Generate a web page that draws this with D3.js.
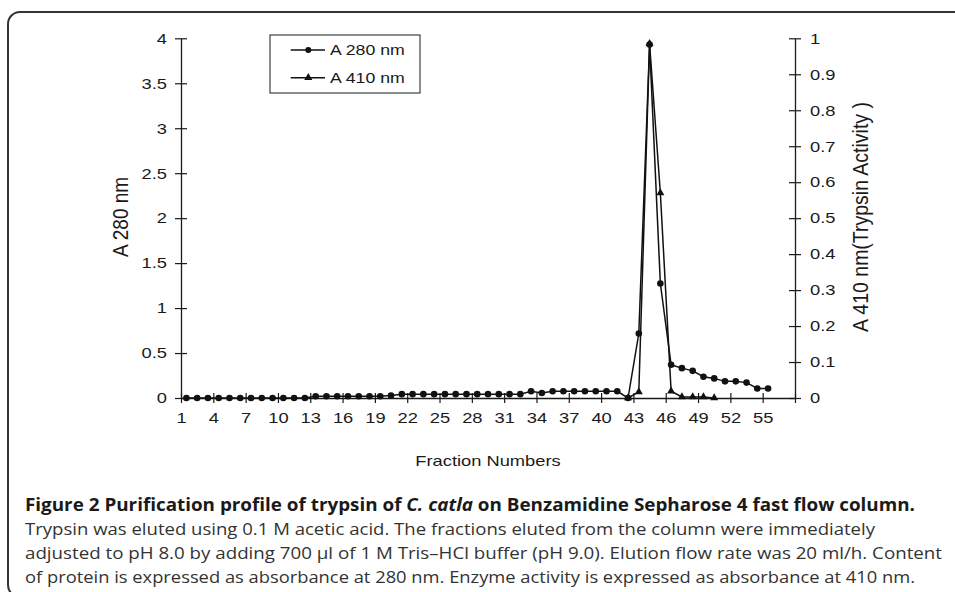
<!DOCTYPE html>
<html>
<head>
<meta charset="utf-8">
<script src="https://cdn.jsdelivr.net/npm/d3@7"></script>
<style>
  html, body { margin: 0; padding: 0; background: #fff; }
  svg { display: block; }
</style>
</head>
<body>
<svg id="chart" width="955" height="592"></svg>
<script>
// ---------------- DATA ----------------
const fractions = [1,2,3,4,5,6,7,8,9,10,11,12,13,14,15,16,17,18,19,20,
  21,22,23,24,25,26,27,28,29,30,31,32,33,34,35,36,37,38,39,40,
  41,42,43,44,45,46,47,48,49,50,51,52,53,54,55];
const a280 = [0,0,0,0,0,0,0,0,0,0,0,0,
  0.02,0.02,0.02,0.02,0.02,0.02,0.02,
  0.027,
  0.043,0.043,0.043,0.043,0.043,0.043,0.043,0.043,0.043,0.043,0.043,0.043,
  0.075,0.055,
  0.075,0.075,0.075,0.075,0.075,0.075,0.075,
  0,0.717,3.93,1.273,0.369,0.332,0.302,0.236,0.218,0.185,0.185,0.171,0.106,0.106];
const a410Fractions = [42,43,44,45,46,47,48,49,50];
const a410 = [0,0.017,0.985,0.570,0.019,0.003,0.003,0.003,0];
const xTickLabels = ["1","4","7","10","13","16","19","22","25","28","31","34","37","40","43","46","49","52","55"];
const leftTicks = [0,0.5,1,1.5,2,2.5,3,3.5,4];
const leftTickLabels = ["0","0.5","1","1.5","2","2.5","3","3.5","4"];
const rightTicks = [0,0.1,0.2,0.3,0.4,0.5,0.6,0.7,0.8,0.9,1];
const rightTickLabels = ["0","0.1","0.2","0.3","0.4","0.5","0.6","0.7","0.8","0.9","1"];
const categoryCount = 57;
const seriesNames = ["A 280 nm", "A 410 nm"];
const xTitle = "Fraction Numbers";
const yLeftTitle = "A 280 nm";
const yRightTitle = "A 410 nm(Trypsin Activity )";
const captionBold = "Figure 2 Purification profile of trypsin of ";
const captionItalic = "C. catla";
const captionBold2 = " on Benzamidine Sepharose 4 fast flow column.";
const captionLines = [
  "Trypsin was eluted using 0.1 M acetic acid. The fractions eluted from the column were immediately",
  "adjusted to pH 8.0 by adding 700 µl of 1 M Tris\u2013HCl buffer (pH 9.0). Elution flow rate was 20 ml/h. Content",
  "of protein is expressed as absorbance at 280 nm. Enzyme activity is expressed as absorbance at 410 nm."
];

// ---------------- LAYOUT ----------------
const svg = d3.select("#chart");
const L = 181, R = 795, T = 38.3, B = 398;
const SX = 1.22; // horizontal stretch of chart text
const chartFont = "'Liberation Sans', Arial, Helvetica, sans-serif";
const ink = "#1a1a1a";
const tickFs = 15;

function stretch(sel, f) {
  sel.each(function() {
    const len = this.getComputedTextLength();
    this.setAttribute("textLength", len * (f || SX));
    this.setAttribute("lengthAdjust", "spacingAndGlyphs");
  });
}

// frame
svg.append("rect")
  .attr("x", 8).attr("y", 12).attr("width", 1000).attr("height", 585)
  .attr("rx", 12).attr("ry", 12)
  .attr("fill", "none").attr("stroke", "#333").attr("stroke-width", 2);

// scales: boundary scale (label n sits at boundary n-1)
const xb = d3.scaleLinear().domain([1, categoryCount + 1]).range([L, R]);
const xc = d => xb(d + 0.5); // category centre
const yL = d3.scaleLinear().domain([0, 4]).range([B, T]);
const yR = d3.scaleLinear().domain([0, 1]).range([B, T]);

// ---- axes ----
const xTickVals = xTickLabels.map(Number).concat([categoryCount + 1]);
const xAxis = d3.axisBottom(xb).tickValues(xTickVals)
  .tickFormat(d => xTickLabels.includes(String(d)) ? String(d) : "")
  .tickSizeInner(5).tickSizeOuter(0).tickPadding(9);
const gx = svg.append("g").attr("transform", `translate(0,${B})`).call(xAxis);
gx.select(".domain").attr("stroke", ink).attr("stroke-width", 1.3);
gx.selectAll(".tick line").attr("y1", -5).attr("stroke", ink).attr("stroke-width", 1.2);
gx.selectAll(".tick text").attr("font-family", chartFont).attr("font-size", tickFs).attr("fill", ink);
stretch(gx.selectAll(".tick text"));

const yAxisL = d3.axisLeft(yL).tickValues(leftTicks)
  .tickFormat((d, i) => leftTickLabels[i]).tickSizeInner(6).tickSizeOuter(0).tickPadding(8);
const gyl = svg.append("g").attr("transform", `translate(${L},0)`).call(yAxisL);
gyl.select(".domain").attr("stroke", ink).attr("stroke-width", 1.3);
gyl.selectAll(".tick line").attr("x1", 6).attr("stroke", ink).attr("stroke-width", 1.2);
gyl.selectAll(".tick text").attr("font-family", chartFont).attr("font-size", tickFs).attr("fill", ink);
stretch(gyl.selectAll(".tick text"));

const yAxisR = d3.axisRight(yR).tickValues(rightTicks)
  .tickFormat((d, i) => rightTickLabels[i]).tickSizeInner(6).tickSizeOuter(0).tickPadding(9);
const gyr = svg.append("g").attr("transform", `translate(${R},0)`).call(yAxisR);
gyr.select(".domain").attr("stroke", ink).attr("stroke-width", 1.3);
gyr.selectAll(".tick line").attr("x1", -6).attr("stroke", ink).attr("stroke-width", 1.2);
gyr.selectAll(".tick text").attr("font-family", chartFont).attr("font-size", tickFs).attr("fill", ink);
stretch(gyr.selectAll(".tick text"));

// axis titles
const xt = svg.append("text").attr("x", 488).attr("y", 466)
  .attr("text-anchor", "middle").attr("font-family", chartFont).attr("font-size", 15)
  .attr("fill", ink).text(xTitle);
stretch(xt);

svg.append("text")
  .attr("transform", `translate(128,217) rotate(-90) scale(1,1.15)`)
  .attr("text-anchor", "middle").attr("font-family", chartFont).attr("font-size", 19)
  .attr("fill", ink).text(yLeftTitle);

svg.append("text")
  .attr("transform", `translate(868,217) rotate(-90) scale(1,1.15)`)
  .attr("text-anchor", "middle").attr("font-family", chartFont).attr("font-size", 19.5)
  .attr("fill", ink).text(yRightTitle);

// ---- series ----
const d280 = fractions.map((f, i) => ({ f, v: a280[i] }));
const d410 = a410Fractions.map((f, i) => ({ f, v: a410[i] }));

svg.append("path").datum(d280)
  .attr("fill", "none").attr("stroke", "#111").attr("stroke-width", 1.5)
  .attr("d", d3.line().x(d => xc(d.f)).y(d => yL(d.v)));
svg.append("path").datum(d410)
  .attr("fill", "none").attr("stroke", "#111").attr("stroke-width", 1.5)
  .attr("d", d3.line().x(d => xc(d.f)).y(d => yR(d.v)));

svg.append("g").selectAll("circle").data(d280).join("circle")
  .attr("cx", d => xc(d.f)).attr("cy", d => yL(d.v)).attr("r", 3.3).attr("fill", "#111");

const tri = d3.symbol(d3.symbolTriangle).size(28);
svg.append("g").selectAll("path").data(d410).join("path")
  .attr("transform", d => `translate(${xc(d.f)},${yR(d.v)})`)
  .attr("d", tri).attr("fill", "#111");

// ---- legend ----
const lg = svg.append("g");
lg.append("rect").attr("x", 270).attr("y", 35).attr("width", 150).attr("height", 58)
  .attr("fill", "#fff").attr("stroke", ink).attr("stroke-width", 1);
const legendY = [50, 77.7];
seriesNames.forEach((name, i) => {
  lg.append("line").attr("x1", 290.7).attr("x2", 325).attr("y1", legendY[i]).attr("y2", legendY[i])
    .attr("stroke", "#111").attr("stroke-width", 1.5);
  if (i === 0) {
    lg.append("circle").attr("cx", 308.3).attr("cy", legendY[i]).attr("r", 3).attr("fill", "#111");
  } else {
    lg.append("path").attr("transform", `translate(308.3,${legendY[i]})`).attr("d", tri).attr("fill", "#111");
  }
  const t = lg.append("text").attr("x", 330).attr("y", legendY[i]).attr("dy", "0.35em")
    .attr("font-family", chartFont).attr("font-size", 14.5).attr("fill", ink).text(name);
  stretch(t);
});

// ---- caption ----
const capFont = "'Open Sans', 'Noto Sans', sans-serif";
const cap1 = svg.append("text").attr("x", 25).attr("y", 510.5)
  .attr("font-family", capFont).attr("font-size", 17).attr("font-weight", "bold").attr("fill", "#1a1a1a");
cap1.append("tspan").text(captionBold);
cap1.append("tspan").attr("font-style", "italic").text(captionItalic);
cap1.append("tspan").text(captionBold2);
cap1.attr("textLength", 890).attr("lengthAdjust", "spacingAndGlyphs");

const capWidths = [850, 917, 890];
const capY = [534.5, 558.5, 582.5];
captionLines.forEach((line, i) => {
  svg.append("text").attr("x", 25).attr("y", capY[i])
    .attr("font-family", capFont).attr("font-size", 17).attr("fill", "#333")
    .attr("textLength", capWidths[i]).attr("lengthAdjust", "spacingAndGlyphs")
    .text(line);
});
</script>
</body>
</html>
